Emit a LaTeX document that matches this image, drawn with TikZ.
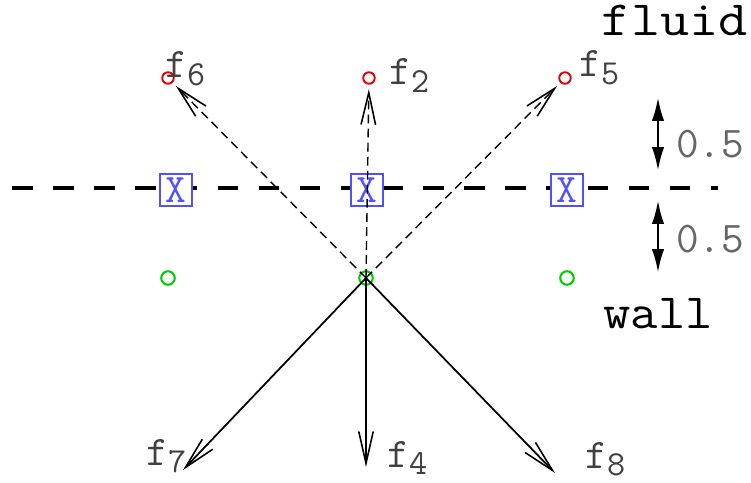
\documentclass[tikz,border=0pt]{standalone}
\usepackage{fontspec}
\usetikzlibrary{arrows.meta}
\definecolor{boxblue}{RGB}{80,80,255}
\definecolor{ptred}{RGB}{225,0,0}
\definecolor{ptgreen}{RGB}{0,205,0}
\tikzset{
  redpt/.style={circle,draw=ptred,line width=1.1pt,inner sep=0pt,minimum size=0.23cm},
  greenpt/.style={circle,draw=ptgreen,line width=1.2pt,inner sep=0pt,minimum size=0.27cm},
  xbox/.style={draw=boxblue,fill=white,text=boxblue,line width=0.8pt,minimum size=0.64cm,inner sep=0pt,font=\fontsize{23}{23}\selectfont\ttfamily},
  barb/.style={-{Straight Barb[length=0.64cm,width=0.29cm,line width=0.9pt]}},
  flab/.style={font=\fontsize{24}{24}\selectfont\ttfamily,text=black!75,inner sep=0pt,anchor=base west},
  numlab/.style={font=\fontsize{25}{25}\selectfont\ttfamily,text=black!60,inner sep=0pt},
  bigword/.style={font=\fontsize{28}{28}\selectfont\ttfamily,inner sep=0pt},
  gap/.style={{Latex[length=0.48cm,width=0.25cm]}-{Latex[length=0.48cm,width=0.25cm]},line width=1.6pt}
}
\newcommand{\fsub}[1]{f\raisebox{-4pt}{\fontsize{20}{20}\selectfont #1}}
\begin{document}
\begin{tikzpicture}[x=0.02cm,y=-0.02cm]
\useasboundingbox (0,0) rectangle (751,483);
% wall line
\coordinate (ll) at (12,188);
\coordinate (lr) at (718,188);
\draw[line width=2.3pt,dash pattern=on 11.7pt off 11.7pt] (ll) -- (lr);
% points
\node[redpt] (p6) at (168,78) {};
\node[redpt] (p2) at (369,78) {};
\node[redpt] (p5) at (565,78) {};
\node[greenpt] (g1) at (168,278) {};
\node[greenpt] (c) at (366,278) {};
\node[greenpt] (g3) at (567,278) {};
\node[xbox] (x1) at (176,190) {X};
\node[xbox] (x2) at (367,190) {X};
\node[xbox] (x3) at (567,190) {X};
% incoming (dashed) and outgoing (solid) directions
\draw[barb,dash pattern=on 5pt off 3pt,line width=0.8pt,shorten >=2.5pt] (c.center) -- (p6);
\draw[barb,dash pattern=on 5pt off 3pt,line width=0.8pt,shorten >=2.5pt] (c.center) -- (p2);
\draw[barb,dash pattern=on 5pt off 3pt,line width=0.8pt,shorten >=2.5pt] (c.center) -- (p5);
\coordinate (e7) at (183,470);
\coordinate (e4) at (366,467);
\coordinate (e8) at (555,473);
\draw[barb,line width=1pt] (c.center) -- (e7);
\draw[barb,line width=1.1pt] (c.center) -- (e4);
\draw[barb,line width=1pt] (c.center) -- (e8);
% labels
\node[flab] (l6) at (165,78) {\fsub{6}};
\node[flab] (l2) at (389,85) {\fsub{2}};
\node[flab] (l5) at (579,77) {\fsub{5}};
\node[flab] (l7) at (146,465) {\fsub{7}};
\node[flab] (l4) at (387,467) {\fsub{4}};
\node[flab] (l8) at (585,468) {\fsub{8}};
% spacing
\coordinate (a1) at (658,97);
\coordinate (a2) at (658,171);
\coordinate (a3) at (658,200);
\coordinate (a4) at (658,273);
\draw[gap] (a1) -- (a2);
\draw[gap] (a3) -- (a4);
\node[numlab,anchor=base west] (h1) at (676,157) {0.5};
\node[numlab,anchor=base west] (h2) at (676,253) {0.5};
\node[bigword,anchor=base east] (fl) at (748,36) {\scalebox{1.15}[1]{fluid}};
\node[bigword,anchor=base west] (wl) at (603,328) {\scalebox{1.08}[1]{wall}};
\end{tikzpicture}
\end{document}
